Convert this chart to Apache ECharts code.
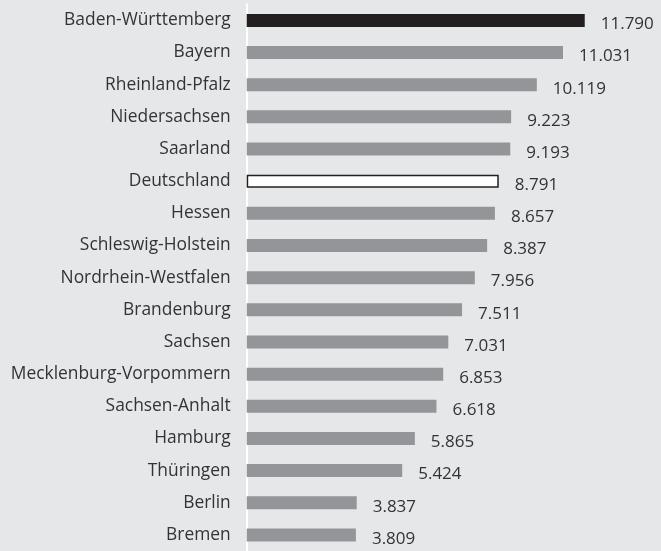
<!DOCTYPE html>
<html><head><meta charset="utf-8">
<script src="https://cdn.jsdelivr.net/npm/echarts@6/dist/echarts.min.js"></script>
<style>html,body{margin:0;padding:0;background:#e6e7e8}#c{width:661px;height:551px}</style>
</head><body><div id="c"></div>
<script>
const categories = ["Baden-Württemberg","Bayern","Rheinland-Pfalz","Niedersachsen","Saarland","Deutschland","Hessen","Schleswig-Holstein","Nordrhein-Westfalen","Brandenburg","Sachsen","Mecklenburg-Vorpommern","Sachsen-Anhalt","Hamburg","Thüringen","Berlin","Bremen"];
const values = [11.790,11.031,10.119,9.223,9.193,8.791,8.657,8.387,7.956,7.511,7.031,6.853,6.618,5.865,5.424,3.837,3.809];
const highlight = "Baden-Württemberg";
const national = "Deutschland";

const fontFamily = "'Open Sans', sans-serif";
const data = values.map((v,i)=>{
  const c = categories[i];
  let style = {color:'#939598'};
  if (c===highlight) style = {color:'#231f20'};
  if (c===national) style = {color:'#ffffff', borderColor:'#231f20', borderWidth:1.5};
  return {value:v, itemStyle:style};
});
const fmt = v => v.toFixed(3);

const chart = echarts.init(document.getElementById('c'), null, {renderer:'canvas'});
chart.setOption({
  backgroundColor:'#e6e7e8',
  animation:false,
  grid:{left:246.7, top:4.3, width:401.4, height:549.3},
  xAxis:{type:'value', min:0, max:14, show:false},
  yAxis:{type:'category', data:categories, inverse:true, offset:2,
    axisLine:{show:true, lineStyle:{color:'#ffffff', width:2}},
    axisTick:{show:false},
    axisLabel:{color:'#333333', fontSize:17.4, fontFamily:fontFamily, margin:14}
  },
  series:[{type:'bar', data:data, barWidth:13,
    label:{show:true, position:'right', distance:16, offset:[0,4],
      color:'#333333', fontSize:17, fontFamily:fontFamily,
      formatter:p=>fmt(p.value)}
  }]
});
</script></body></html>
